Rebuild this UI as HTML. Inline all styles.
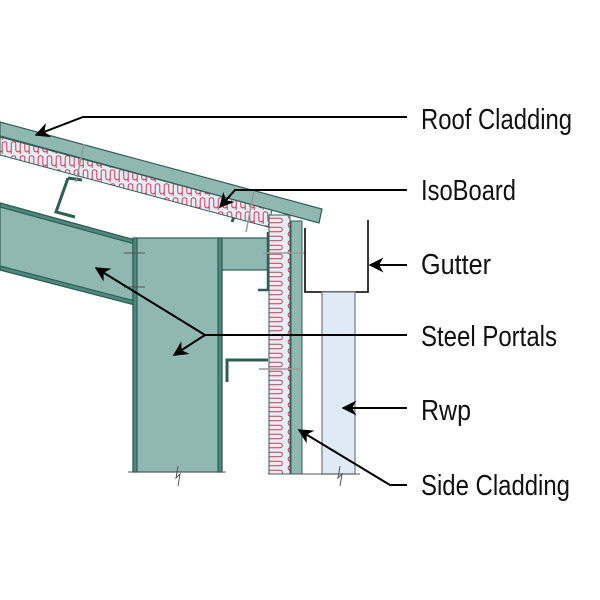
<!DOCTYPE html>
<html><head><style>html,body{margin:0;padding:0;background:#fff}svg{display:block}</style></head>
<body>
<svg width="600" height="600" viewBox="0 0 600 600" xmlns="http://www.w3.org/2000/svg">
<defs>
<pattern id="wr" width="9" height="14" patternUnits="userSpaceOnUse">
<rect width="9" height="14" fill="#e4eef7"/>
<path d="M2.2,14 L2.2,4 A2.3,2.3 0 0 1 6.8,4 L6.8,10 A2.3,2.3 0 0 0 11.3,10" fill="none" stroke="#d8344e" stroke-width="1"/>
<path d="M-2.3,10 A2.3,2.3 0 0 0 2.2,10" fill="none" stroke="#d8344e" stroke-width="1"/>
</pattern>
<pattern id="ww" width="22" height="9" patternUnits="userSpaceOnUse">
<rect width="22" height="9" fill="#e4eef7"/>
<path d="M4,2.2 L16,2.2 A2.3,2.3 0 0 1 16,6.8 L4,6.8 A2.3,2.3 0 0 0 4,11.3" fill="none" stroke="#d8344e" stroke-width="1"/>
<path d="M4,-2.3 A2.3,2.3 0 0 0 4,2.2" fill="none" stroke="#d8344e" stroke-width="1"/>
</pattern>
<marker id="ar" viewBox="0 0 10 10" refX="9" refY="5" markerWidth="15" markerHeight="15" orient="auto-start-reverse" markerUnits="userSpaceOnUse">
<path d="M0,0 L10,5 L0,10 L3,5 Z" fill="#000"/>
</marker>
</defs>
<g stroke="#2f5e56" stroke-width="1.2">
<polygon points="0,203 135,240 135,305 0,270" fill="#8fb8b3"/>
<polygon points="0,203 135,240 135,244 0,207" fill="#4d877d"/>
<polygon points="0,266 135,301 135,305 0,270" fill="#4d877d"/>
<rect x="133" y="238" width="89" height="234" fill="#8fb8b3"/>
<rect x="133" y="238" width="4" height="234" fill="#4d877d"/>
<rect x="218" y="238" width="4" height="234" fill="#4d877d"/>
<rect x="222" y="238" width="46" height="32" fill="#8fb8b3"/>
<path d="M68,178 L82,180 M68,178 L56,212 L75,217" fill="none" stroke-width="3"/>
<path d="M232,222 L236,212 L252,216" fill="none" stroke-width="3"/>
<path d="M268,232 L268,290 L258,290" fill="none" stroke-width="2.5"/>
<path d="M227,382 L227,360 L268,360" fill="none" stroke-width="3"/>
</g>
<polygon points="0,137 272,210 268,227 0,155" fill="url(#wr)" stroke="#2f5e56"/>
<polygon points="0,122 322,209 319,223 0,136" fill="#8fb8b3" stroke="#2f5e56" stroke-width="1.2"/>
<rect x="269" y="215" width="21" height="259" fill="url(#ww)" stroke="#2f5e56"/>
<rect x="291" y="221" width="11" height="253" fill="#8fb8b3" stroke="#2f5e56"/>
<g stroke="#999" stroke-width="1.5">
<line x1="84" y1="144" x2="76" y2="182"/><line x1="254" y1="191" x2="246" y2="232"/>
<line x1="263" y1="253" x2="306" y2="253"/><line x1="259" y1="369" x2="302" y2="369"/>
</g>
<path d="M305,228 L305,292 L368,292 L368,220" fill="none" stroke="#222" stroke-width="1.8"/>
<rect x="322" y="292" width="33" height="182" fill="#deeaf6" stroke="#777" stroke-width="1.2"/>
<g stroke="#555" stroke-width="1" fill="none">
<line x1="128" y1="472" x2="226" y2="472"/><line x1="268" y1="474" x2="360" y2="474"/>
<path d="M178,466 L176,478 L180,474 L178,486"/><path d="M340,466 L338,478 L342,474 L340,486"/>
<line x1="124" y1="253" x2="145" y2="253"/><line x1="124" y1="287" x2="145" y2="287"/>
</g>
<g stroke="#000" stroke-width="2" fill="none">
<polyline points="407,117 83,117 36,135" marker-end="url(#ar)"/>
<polyline points="407,190 235,190 220,207" marker-end="url(#ar)"/>
<line x1="407" y1="265" x2="370" y2="265" marker-end="url(#ar)"/>
<line x1="407" y1="335" x2="205" y2="335"/>
<line x1="205" y1="335" x2="96" y2="268" marker-end="url(#ar)"/>
<line x1="205" y1="335" x2="174" y2="355" marker-end="url(#ar)"/>
<line x1="407" y1="408" x2="343" y2="408" marker-end="url(#ar)"/>
<polyline points="407,485 390,485 299,430" marker-end="url(#ar)"/>
</g>
<g font-family="Liberation Sans, sans-serif" font-size="29" fill="#111">
<text x="421" y="129" textLength="151" lengthAdjust="spacingAndGlyphs">Roof Cladding</text>
<text x="421" y="200" textLength="95" lengthAdjust="spacingAndGlyphs">IsoBoard</text>
<text x="421" y="274" textLength="70" lengthAdjust="spacingAndGlyphs">Gutter</text>
<text x="421" y="346" textLength="136" lengthAdjust="spacingAndGlyphs">Steel Portals</text>
<text x="421" y="420" textLength="50" lengthAdjust="spacingAndGlyphs">Rwp</text>
<text x="421" y="495" textLength="149" lengthAdjust="spacingAndGlyphs">Side Cladding</text>
</g>
</svg>
</body></html>
